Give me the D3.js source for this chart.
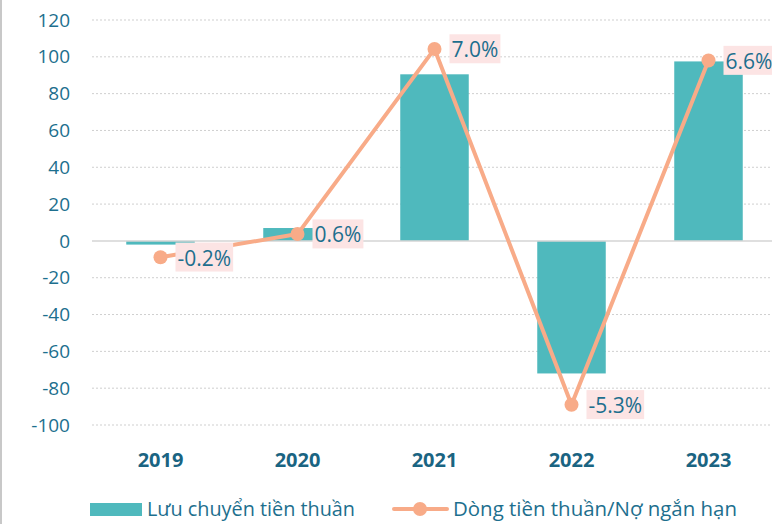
<!DOCTYPE html>
<html>
<head>
<meta charset="utf-8">
<script src="https://cdn.jsdelivr.net/npm/d3@7"></script>
<style>
  body { margin: 0; background: #fff; }
  svg { display: block; font-family: "Open Sans", "Noto Sans", sans-serif; }
</style>
</head>
<body>
<svg id="canvas" width="772" height="524"></svg>
<script>
let years = ['2019', '2020', '2021', '2022', '2023']
let netFlow = [-2, 7, 90.5, -72, 97.5]
let ratio = [-0.2, 0.6, 7.0, -5.3, 6.6]
let ratioLabels = ['-0.2%', '0.6%', '7.0%', '-5.3%', '6.6%']
let yTicks = [-100, -80, -60, -40, -20, 0, 20, 40, 60, 80, 100, 120]

let barColor = '#4fb9bd'
let lineColor = '#f8ab88'
let textColor = '#1d6f8e'

let svg = d3.select('#canvas')

// left border
svg.append('line')
    .attr('x1', 1).attr('x2', 1).attr('y1', 0).attr('y2', 524)
    .attr('stroke', '#c8c8c8').attr('stroke-width', 2)

let x = d3.scaleBand()
    .domain(years)
    .range([92, 777])
    .paddingInner(0.5)
    .paddingOuter(0.25)

let y = d3.scaleLinear()
    .domain([-100, 120])
    .range([425, 20])

// secondary (hidden) axis for the ratio line
let y2 = d3.scaleLinear()
    .domain([-6, 8])
    .range([425, 20])

// grid lines
svg.append('g')
    .selectAll('line')
    .data(yTicks.filter(d => d !== 0))
    .enter()
        .append('line')
        .attr('x1', 92).attr('x2', 772)
        .attr('y1', d => y(d)).attr('y2', d => y(d))
        .attr('stroke', '#cfcfcf')
        .attr('stroke-width', 1)
        .attr('stroke-dasharray', '2,2')

// tick labels
svg.append('g')
    .selectAll('text')
    .data(yTicks)
    .enter()
        .append('text')
        .attr('x', 70)
        .attr('y', d => y(d))
        .attr('dy', '0.35em')
        .attr('text-anchor', 'end')
        .attr('fill', textColor)
        .attr('font-size', 19)
        .text(d => d)

// bars
svg.append('g')
    .selectAll('rect')
    .data(netFlow)
    .enter()
        .append('rect')
        .attr('x', (d, i) => x(years[i]))
        .attr('width', x.bandwidth())
        .attr('y', d => y(Math.max(0, d)))
        .attr('height', d => Math.abs(y(d) - y(0)))
        .attr('fill', barColor)

// zero line
svg.append('line')
    .attr('x1', 92).attr('x2', 772)
    .attr('y1', y(0)).attr('y2', y(0))
    .attr('stroke', '#d4d4d4')
    .attr('stroke-width', 1.5)

// year labels
svg.append('g')
    .selectAll('text')
    .data(years)
    .enter()
        .append('text')
        .attr('x', d => x(d) + x.bandwidth() / 2)
        .attr('y', 460)
        .attr('dy', '0.35em')
        .attr('text-anchor', 'middle')
        .attr('fill', '#1a6482')
        .attr('font-size', 20)
        .attr('font-weight', 'bold')
        .text(d => d)

// ratio line
let cx = (d, i) => x(years[i]) + x.bandwidth() / 2
let line = d3.line()
    .x(cx)
    .y(d => y2(d))

svg.append('path')
    .datum(ratio)
    .attr('d', line)
    .attr('fill', 'none')
    .attr('stroke', lineColor)
    .attr('stroke-width', 4)
    .attr('stroke-linejoin', 'round')

svg.append('g')
    .selectAll('circle')
    .data(ratio)
    .enter()
        .append('circle')
        .attr('cx', cx)
        .attr('cy', d => y2(d))
        .attr('r', 7)
        .attr('fill', lineColor)

// data labels with pink background
let labels = svg.append('g')
    .selectAll('g')
    .data(ratio)
    .enter()
        .append('g')
        .attr('transform', (d, i) => 'translate(' + (cx(d, i) + 17) + ',' + (y2(d) + 1) + ')')

labels.append('rect')
    .attr('class', 'bg')
    .attr('fill', '#fce4e4')

labels.append('text')
    .attr('x', 0)
    .attr('y', 0)
    .attr('dy', '0.35em')
    .attr('fill', textColor)
    .attr('font-size', 21)
    .text((d, i) => ratioLabels[i])

labels.each(function() {
    let g = d3.select(this)
    let bb = g.select('text').node().getBBox()
    g.select('rect')
        .attr('x', bb.x - 2)
        .attr('y', bb.y - 1)
        .attr('width', bb.width + 4)
        .attr('height', bb.height + 1)
})

// legend
let legend = svg.append('g')
legend.append('rect')
    .attr('x', 90).attr('y', 503)
    .attr('width', 52).attr('height', 13)
    .attr('fill', barColor)
legend.append('text')
    .attr('x', 147).attr('y', 509)
    .attr('dy', '0.35em')
    .attr('fill', textColor)
    .attr('font-size', 20)
    .attr('textLength', 208)
    .attr('lengthAdjust', 'spacingAndGlyphs')
    .text('Lưu chuyển tiền thuần')

legend.append('line')
    .attr('x1', 394).attr('x2', 447)
    .attr('y1', 509).attr('y2', 509)
    .attr('stroke', lineColor)
    .attr('stroke-width', 4)
    .attr('stroke-linecap', 'round')
legend.append('circle')
    .attr('cx', 420).attr('cy', 509)
    .attr('r', 7)
    .attr('fill', lineColor)
legend.append('text')
    .attr('x', 453).attr('y', 509)
    .attr('dy', '0.35em')
    .attr('fill', textColor)
    .attr('font-size', 20)
    .attr('textLength', 284)
    .attr('lengthAdjust', 'spacingAndGlyphs')
    .text('Dòng tiền thuần/Nợ ngắn hạn')
</script>
</body>
</html>
